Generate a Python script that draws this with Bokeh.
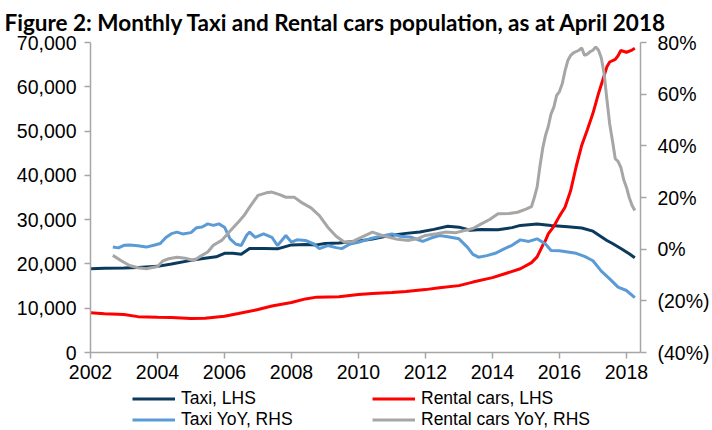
from bokeh.plotting import figure
from bokeh.layouts import column
from bokeh.models import (Range1d, LinearAxis, FixedTicker, NumeralTickFormatter,
                          CustomJSTickFormatter, Legend, LegendItem)
from bokeh.embed import file_html
from bokeh.resources import INLINE

TITLE = "Figure 2: Monthly Taxi and Rental cars population, as at April 2018"
YEAR_TICKS = [2002, 2004, 2006, 2008, 2010, 2012, 2014, 2016, 2018]
LHS_TICKS = [0, 10000, 20000, 30000, 40000, 50000, 60000, 70000]
RHS_TICKS = [-40, -20, 0, 20, 40, 60, 80]

taxi_dates = ["2002-01", "2002-06", "2003-01", "2003-06", "2004-01", "2004-06", "2005-01",
              "2005-06", "2005-10", "2006-01", "2006-04", "2006-07", "2006-10", "2007-03",
              "2007-08", "2008-01", "2008-06", "2008-10", "2009-01", "2009-06", "2010-01",
              "2010-06", "2011-01", "2011-06", "2011-11", "2012-04", "2012-09", "2013-01",
              "2013-05", "2013-09", "2014-03", "2014-08", "2014-11", "2015-05", "2015-10",
              "2016-04", "2016-09", "2017-01", "2017-06", "2017-08", "2017-11", "2018-02",
              "2018-04"]
taxi_lhs = [18900, 19000, 19100, 19200, 19450, 20000, 20800, 21300, 21600, 22400, 22400,
            22200, 23500, 23500, 23400, 24300, 24400, 24300, 24600, 24700, 25200, 25600,
            26500, 26900, 27200, 27800, 28500, 28300, 27600, 27800, 27700, 28200, 28700,
            29000, 28700, 28400, 28100, 27400, 25300, 24600, 23500, 22300, 21400]

rental_dates = ["2002-01", "2002-06", "2003-01", "2003-06", "2004-01", "2004-06", "2005-01",
                "2005-06", "2006-01", "2006-06", "2007-01", "2007-06", "2008-01", "2008-06",
                "2008-10", "2009-06", "2010-01", "2010-06", "2011-01", "2011-06", "2012-01",
                "2012-06", "2013-01", "2013-06", "2014-01", "2014-06", "2014-11", "2015-03",
                "2015-05", "2015-07", "2015-08", "2015-09", "2015-11", "2016-01", "2016-03",
                "2016-05", "2016-07", "2016-09", "2016-11", "2017-01", "2017-03", "2017-05",
                "2017-06", "2017-07", "2017-09", "2017-10", "2017-11", "2018-01", "2018-03",
                "2018-04"]
rental_lhs = [8950, 8750, 8580, 8100, 7950, 7900, 7650, 7750, 8200, 8800, 9700, 10500,
              11300, 12100, 12500, 12600, 13100, 13300, 13550, 13800, 14200, 14600, 15100,
              15900, 16900, 17900, 18900, 20300, 21600, 24200, 25300, 26800, 28500, 30800,
              32800, 36500, 42000, 46800, 50300, 54000, 58500, 62500, 64500, 65600, 66200,
              67000, 68200, 67800, 68300, 68700]

taxi_yoy_dates = ["2002-09", "2002-11", "2003-01", "2003-03", "2003-06", "2003-09", "2003-12",
                  "2004-02", "2004-04", "2004-06", "2004-08", "2004-10", "2005-01", "2005-03",
                  "2005-05", "2005-07", "2005-09", "2005-11", "2006-01", "2006-03", "2006-05",
                  "2006-07", "2006-09", "2006-10", "2006-12", "2007-03", "2007-06", "2007-08",
                  "2007-11", "2008-01", "2008-03", "2008-06", "2008-09", "2008-11", "2009-02",
                  "2009-05", "2009-07", "2009-10", "2010-01", "2010-05", "2010-09", "2011-01",
                  "2011-04", "2011-08", "2011-12", "2012-03", "2012-06", "2012-09", "2013-01",
                  "2013-04", "2013-06", "2013-08", "2013-11", "2014-02", "2014-05", "2014-08",
                  "2014-11", "2015-02", "2015-05", "2015-08", "2015-10", "2016-01", "2016-04",
                  "2016-07", "2016-10", "2017-01", "2017-04", "2017-07", "2017-10", "2018-01",
                  "2018-04"]
taxi_yoy = [0.8, 0.5, 1.5, 1.6, 1.3, 0.8, 1.6, 2.2, 4.5, 6.0, 6.6, 5.9, 6.4, 8.3, 8.6, 9.8,
            9.2, 9.8, 8.5, 4.0, 2.0, 1.4, 5.5, 6.6, 4.6, 5.9, 4.6, 1.4, 5.3, 2.7, 3.6, 3.4,
            2.0, 0.2, 1.4, 0.6, 0.2, 2.0, 2.7, 4.0, 5.0, 5.9, 5.0, 4.6, 3.0, 4.3, 5.3, 4.8,
            4.0, 0.8, -2.0, -3.1, -2.5, -1.6, 0.0, 1.5, 3.6, 3.0, 4.0, 2.0, -0.5, -0.6, -1.1,
            -1.6, -2.8, -4.5, -8.5, -11.5, -14.7, -16.0, -18.8]

rental_yoy_dates = ["2002-09", "2002-12", "2003-03", "2003-06", "2003-09", "2004-01", "2004-03",
                    "2004-05", "2004-08", "2004-11", "2005-02", "2005-04", "2005-07", "2005-09",
                    "2005-12", "2006-03", "2006-06", "2006-08", "2006-10", "2007-01", "2007-04",
                    "2007-06", "2007-09", "2007-11", "2008-02", "2008-05", "2008-08", "2008-11",
                    "2009-02", "2009-05", "2009-08", "2009-11", "2010-02", "2010-06", "2010-09",
                    "2010-12", "2011-03", "2011-07", "2011-10", "2012-01", "2012-05", "2012-08",
                    "2012-12", "2013-03", "2013-06", "2013-09", "2013-12", "2014-03", "2014-07",
                    "2014-10", "2015-01", "2015-03", "2015-04", "2015-05", "2015-06", "2015-07",
                    "2015-08", "2015-09", "2015-10", "2015-11", "2015-12", "2016-01", "2016-02",
                    "2016-03", "2016-04", "2016-05", "2016-06", "2016-08", "2016-09", "2016-10",
                    "2016-11", "2016-12", "2017-01", "2017-02", "2017-03", "2017-04", "2017-05",
                    "2017-06", "2017-07", "2017-08", "2017-09", "2017-10", "2017-11", "2017-12",
                    "2018-01", "2018-02", "2018-03", "2018-04"]
rental_yoy = [-2.4, -4.5, -6.3, -7.2, -7.6, -6.7, -4.5, -3.7, -3.1, -3.5, -4.4, -3.0, -1.1,
              1.5, 3.4, 7.0, 10.5, 13.0, 16.3, 20.8, 21.8, 22.1, 21.0, 20.1, 20.1, 17.8, 16.0,
              13.0, 8.5, 5.0, 2.7, 3.0, 4.6, 6.6, 5.5, 4.6, 3.8, 3.4, 4.0, 5.3, 6.0, 6.6, 6.4,
              7.2, 8.0, 9.8, 11.5, 13.7, 13.8, 14.3, 15.5, 16.5, 20.0, 24.0, 32.0, 39.0, 44.0,
              47.5, 52.4, 55.0, 59.5, 61.0, 64.0, 69.0, 73.0, 75.0, 76.0, 77.0, 77.9, 75.0,
              75.5, 76.5, 77.0, 78.3, 77.0, 74.0, 68.0, 58.0, 48.5, 42.0, 35.0, 34.0, 31.7,
              27.0, 24.0, 20.0, 17.0, 15.0]

SERIES_NAMES = ["Taxi, LHS", "Rental cars, LHS", "Taxi YoY, RHS", "Rental cars YoY, RHS"]
SERIES_COLORS = ["#0B3A5D", "#FF0000", "#5B9BD5", "#A6A6A6"]


def to_year(dates):
    out = []
    for d in dates:
        y, m = d.split("-")
        out.append(int(y) + (int(m) - 1) / 12.0)
    return out


FONT = "Liberation Sans"
AXIS_COLOR = "#A6A6A6"

p = figure(width=712, height=388, output_backend="svg", toolbar_location=None,
           x_range=Range1d(2002, 2018.42), y_range=Range1d(0, 70000),
           min_border_left=90, min_border_right=72, min_border_top=42, min_border_bottom=36,
           title=TITLE)
p.extra_y_ranges = {"pct": Range1d(-40, 80)}

p.title.text_font = "Lato"
p.title.text_font_style = "bold"
p.title.text_font_size = "22.5px"
p.title.align = "left"
p.title.offset = -86
p.title.standoff = 13
p.title.text_color = "black"

p.outline_line_color = None
p.xgrid.visible = False
p.ygrid.visible = False
p.background_fill_color = "white"
p.border_fill_color = "white"

right = LinearAxis(y_range_name="pct")
p.add_layout(right, "right")

for ax in [p.xaxis[0], p.yaxis[0], right]:
    ax.axis_line_color = AXIS_COLOR
    ax.axis_line_width = 1.5
    ax.major_tick_line_color = AXIS_COLOR
    ax.major_tick_line_width = 1.5
    ax.major_tick_out = 6
    ax.major_tick_in = 0
    ax.minor_tick_line_color = None
    ax.major_label_text_font = FONT
    ax.major_label_text_font_size = "19.5px"
    ax.major_label_text_color = "black"

p.xaxis[0].ticker = FixedTicker(ticks=YEAR_TICKS)
p.xaxis[0].major_label_standoff = 6
p.yaxis[0].ticker = FixedTicker(ticks=LHS_TICKS)
p.yaxis[0].formatter = NumeralTickFormatter(format="0,0")
p.yaxis[0].major_label_standoff = 8
right.ticker = FixedTicker(ticks=RHS_TICKS)
right.formatter = CustomJSTickFormatter(
    code="return tick < 0 ? '(' + Math.abs(tick) + '%)' : tick + '%';")
right.major_label_standoff = 11

W = 3
p.line(to_year(taxi_dates), taxi_lhs, line_color=SERIES_COLORS[0], line_width=W)
p.line(to_year(rental_dates), rental_lhs, line_color=SERIES_COLORS[1], line_width=W)
p.line(to_year(taxi_yoy_dates), taxi_yoy, line_color=SERIES_COLORS[2], line_width=W,
       y_range_name="pct")
p.line(to_year(rental_yoy_dates), rental_yoy, line_color=SERIES_COLORS[3], line_width=W,
       y_range_name="pct")

# legend strip below the chart (its frame is aligned with the chart's frame)
lp = figure(width=712, height=42, output_backend="svg", toolbar_location=None,
            x_range=Range1d(0, 1), y_range=Range1d(0, 1), min_border=0,
            x_axis_location=None, y_axis_location=None)
lp.outline_line_color = None
lp.xgrid.visible = False
lp.ygrid.visible = False
lp.border_fill_color = "white"
lp.background_fill_color = "white"

# legend keys: lines kept outside the visible range so only the legend shows them
keys = [lp.line([-2, -1], [-2, -2], line_color=c, line_width=W) for c in SERIES_COLORS]


def make_legend(idx, loc):
    return Legend(items=[LegendItem(label=SERIES_NAMES[i], renderers=[keys[i]]) for i in idx],
                  location=loc, orientation="vertical",
                  glyph_width=43, glyph_height=19, label_height=19, label_standoff=6,
                  spacing=0, padding=0, margin=0, border_line_color=None,
                  background_fill_alpha=0, label_text_font=FONT,
                  label_text_font_size="17.5px", label_text_color="black")


lp.add_layout(make_legend([0, 2], (42, 0)), "center")
lp.add_layout(make_legend([1, 3], (282, 0)), "center")

layout = column(p, lp, spacing=0)
open("out.html", "w").write(file_html(layout, INLINE))
